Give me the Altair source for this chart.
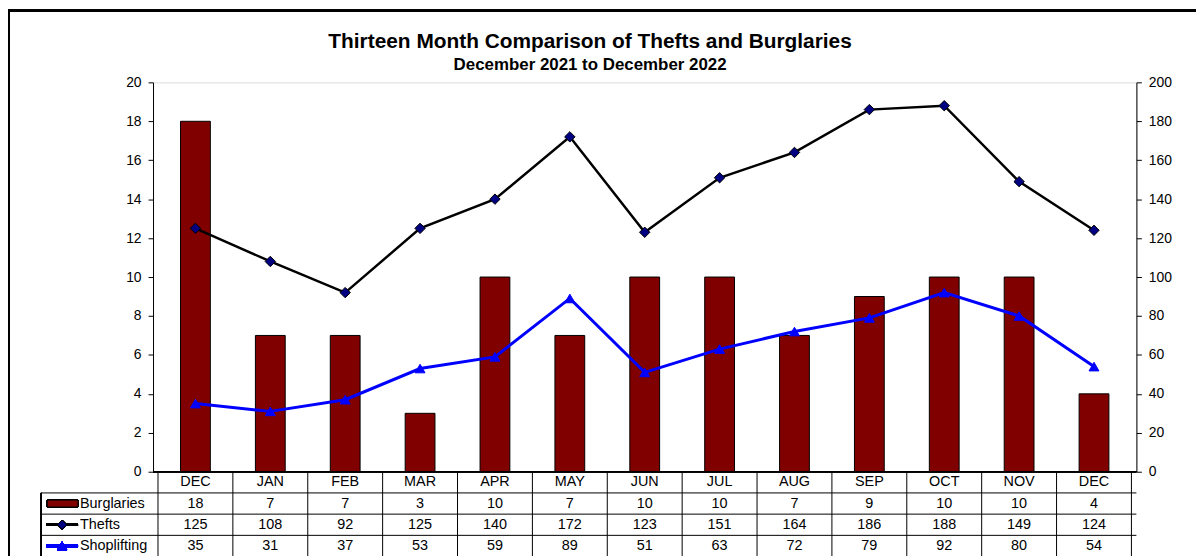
import altair as alt
import pandas as pd

months = ["DEC", "JAN", "FEB", "MAR", "APR", "MAY", "JUN", "JUL", "AUG", "SEP", "OCT", "NOV", "DEC"]
burglaries = [18, 7, 7, 3, 10, 7, 10, 10, 7, 9, 10, 10, 4]
thefts = [125, 108, 92, 125, 140, 172, 123, 151, 164, 186, 188, 149, 124]
shoplifting = [35, 31, 37, 53, 59, 89, 51, 63, 72, 79, 92, 80, 54]
series_names = ["Burglaries", "Thefts", "Shoplifting"]
left_ticks = list(range(0, 21, 2))
right_ticks = list(range(0, 201, 20))

FONT = "Liberation Sans"
MAROON = "#800000"
NAVY = "#000080"
BLUE = "#0000FF"

n = len(months)
df = pd.DataFrame({"idx": list(range(n)), "month": months, "burglaries": burglaries,
                   "thefts": thefts, "shoplifting": shoplifting})
edges = pd.DataFrame({"edge": [i - 0.5 for i in range(n + 1)]})
legend_df = pd.DataFrame({"name": series_names, "r": [i + 1 for i in range(len(series_names))]})

xs = alt.Scale(domain=[-0.5, n - 0.5], nice=False, zero=False)
rows = alt.Scale(domain=[0, 4], range=[392, 477.4], nice=False, zero=False)
X = alt.X("idx:Q", scale=xs, axis=None)

axis_common = dict(title=None, grid=False, domainColor="black", tickColor="black", tickSize=5,
                   labelFontSize=14, labelFont=FONT, labelColor="black", labelPadding=7,
                   domainWidth=1, tickWidth=1)

bars = alt.Chart(df).mark_bar(size=30, color=MAROON, stroke="black", strokeWidth=1).encode(
    x=X,
    y=alt.Y("burglaries:Q", scale=alt.Scale(domain=[0, 20], nice=False),
            axis=alt.Axis(orient="left", values=left_ticks, **axis_common)),
)

right_y = alt.Scale(domain=[0, 200], nice=False)
thefts_line = alt.Chart(df).mark_line(color="black", strokeWidth=2.5).encode(
    x=X,
    y=alt.Y("thefts:Q", scale=right_y,
            axis=alt.Axis(orient="right", values=right_ticks, **axis_common)),
)
thefts_pts = alt.Chart(df).mark_point(shape="diamond", filled=True, size=110, fill=NAVY,
                                      stroke="black", strokeWidth=1, opacity=1).encode(
    x=X, y=alt.Y("thefts:Q", scale=right_y, axis=None))
shop_line = alt.Chart(df).mark_line(color=BLUE, strokeWidth=3).encode(
    x=X, y=alt.Y("shoplifting:Q", scale=right_y, axis=None))
shop_pts = alt.Chart(df).mark_point(shape="triangle-up", filled=True, size=100, fill=BLUE,
                                    stroke=BLUE, strokeWidth=1, opacity=1).encode(
    x=X, y=alt.Y("shoplifting:Q", scale=right_y, axis=None))

# ---- data table below the plot ----
def row_text(field, r):
    return alt.Chart(df).mark_text(font=FONT, fontSize=14.5, color="black", baseline="middle").encode(
        x=X, y=alt.Y(datum=r, scale=rows, axis=None), text=f"{field}:N")

hdr = row_text("month", 0.5)
t_burg = row_text("burglaries", 1.5)
t_theft = row_text("thefts", 2.5)
t_shop = row_text("shoplifting", 3.5)

vlines = alt.Chart(edges).mark_rule(color="black", strokeWidth=1).encode(
    x=alt.X("edge:Q", scale=xs, axis=None),
    y=alt.Y(datum=0, scale=rows, axis=None), y2=alt.Y2(datum=4))
top_line = alt.Chart(df).mark_rule(color="black", strokeWidth=1).encode(
    x=alt.value(0), x2=alt.value(990), y=alt.Y(datum=0, scale=rows, axis=None))
hlines = alt.Chart(legend_df).mark_rule(color="black", strokeWidth=1).encode(
    x=alt.value(-112.5), x2=alt.value(990), y=alt.Y("r:Q", scale=rows, axis=None))
leg_border = alt.Chart(df).mark_rule(color="black", strokeWidth=1).encode(
    x=alt.value(-112.5), y=alt.Y(datum=1, scale=rows, axis=None), y2=alt.Y2(datum=4))

leg_labels = alt.Chart(legend_df).transform_calculate(rc="datum.r + 0.5").mark_text(
    font=FONT, fontSize=14.5, color="black", align="left", baseline="middle").encode(
    x=alt.value(-73.5), y=alt.Y("rc:Q", scale=rows, axis=None), text="name:N")

leg_bar = alt.Chart(df).mark_rect(fill=MAROON, stroke="black", strokeWidth=1).encode(
    x=alt.value(-106.5), x2=alt.value(-75.5), y=alt.value(420.5), y2=alt.value(427.5))
leg_theft_line = alt.Chart(df).mark_rule(color="black", strokeWidth=2.5).encode(
    x=alt.value(-107.5), x2=alt.value(-75.5), y=alt.Y(datum=2.5, scale=rows, axis=None))
leg_theft_pt = alt.Chart(df).mark_point(shape="diamond", filled=True, size=90, fill=NAVY,
                                        stroke="black", strokeWidth=1, opacity=1).encode(
    x=alt.value(-91.5), y=alt.Y(datum=2.5, scale=rows, axis=None))
leg_shop_line = alt.Chart(df).mark_rule(color=BLUE, strokeWidth=3).encode(
    x=alt.value(-107.5), x2=alt.value(-75.5), y=alt.Y(datum=3.5, scale=rows, axis=None))
leg_shop_pt = alt.Chart(df).mark_point(shape="triangle-up", filled=True, size=90, fill=BLUE,
                                       stroke=BLUE, strokeWidth=1, opacity=1).encode(
    x=alt.value(-91.5), y=alt.Y(datum=3.5, scale=rows, axis=None))

frame = alt.Chart(df).mark_rect(fill=None, stroke="black", strokeWidth=2).encode(
    x=alt.value(-145), x2=alt.value(1200), y=alt.value(-72), y2=alt.value(600))

chart = alt.layer(
    frame, bars, thefts_line, shop_line, thefts_pts, shop_pts,
    vlines, top_line, hlines, leg_border,
    hdr, t_burg, t_theft, t_shop,
    leg_bar, leg_theft_line, leg_theft_pt, leg_shop_line, leg_shop_pt, leg_labels,
).resolve_scale(y="independent").properties(
    width=990, height=392,
    padding={"left": 146, "top": 73, "right": 60, "bottom": 83},
    autosize=alt.AutoSizeParams(type="none"),
    title=alt.TitleParams(
        text="Thirteen Month Comparison of Thefts and Burglaries",
        subtitle="December 2021 to December 2022",
        fontSize=21, subtitleFontSize=17, fontWeight="bold", subtitleFontWeight="bold",
        font=FONT, subtitleFont=FONT, color="black", subtitleColor="black",
        anchor="middle", frame="group", dx=-55, dy=71, offset=7, subtitlePadding=6,
    ),
).configure_view(stroke="#808080", strokeWidth=1).configure(font=FONT, background="white")

chart.save("out.html", embed_options={"renderer": "svg", "actions": False})
